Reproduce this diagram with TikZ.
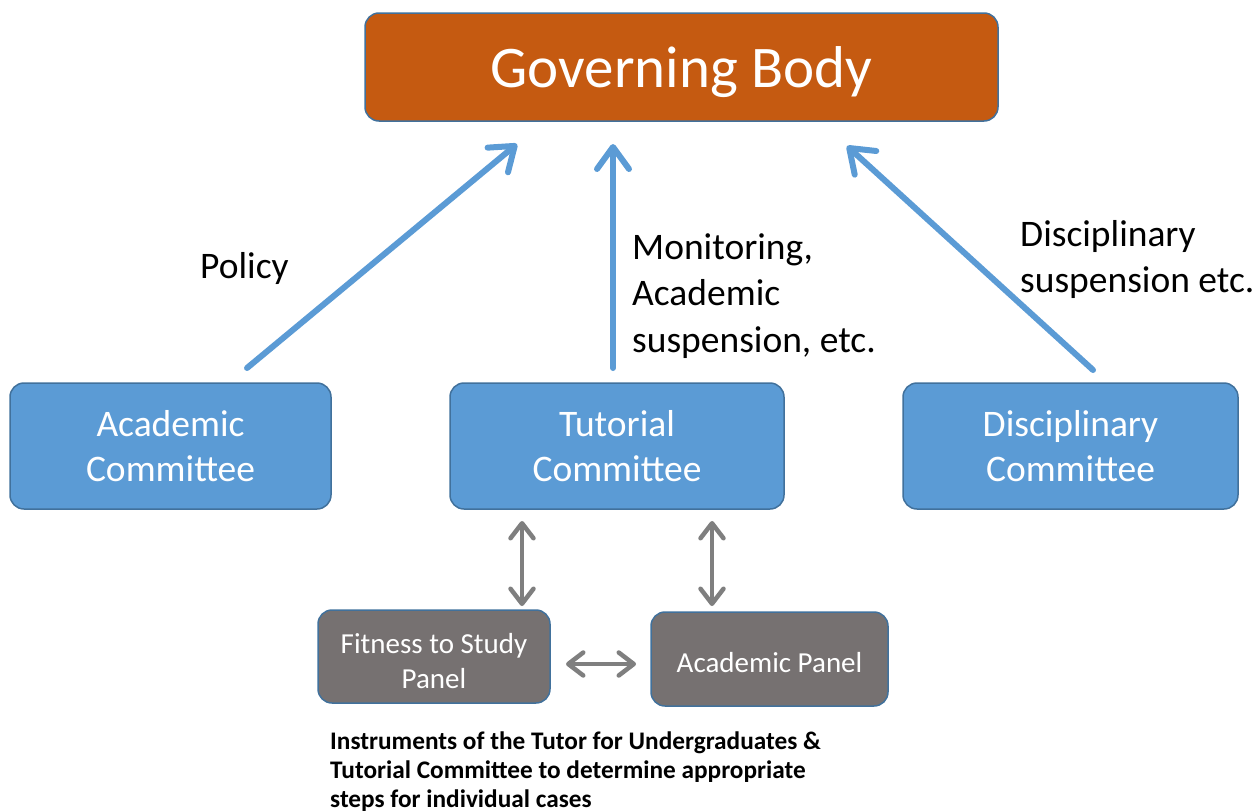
\documentclass[tikz,border=0pt]{standalone}
\usepackage{fontspec}
\setmainfont{Carlito}
\usetikzlibrary{arrows.meta}
\definecolor{gborange}{HTML}{C55A11}
\definecolor{cblue}{HTML}{5B9BD5}
\definecolor{cborder}{HTML}{41719C}
\definecolor{pgray}{HTML}{767171}
\definecolor{agray}{HTML}{7F7F7F}
\tikzset{
  box/.style={draw=cborder, line width=1.5pt, rounded corners=14pt, text=white, align=center, inner sep=0pt},
  gbbox/.style={box, fill=gborange, font=\fontsize{59}{60}\selectfont},
  cbox/.style={box, fill=cblue, font=\fontsize{37.5}{45}\selectfont},
  pbox/.style={box, fill=pgray, font=\fontsize{29}{35}\selectfont},
  bluearrow/.style={draw=cblue, line width=6pt, line cap=round, line join=round,
    -{Straight Barb[length=22pt, width=32pt, line cap=round, line join=round]}},
  grayarrow/.style={draw=agray, line width=4.5pt, line cap=round, line join=round,
    {Straight Barb[length=15pt, width=23pt, line cap=round, line join=round]}-{Straight Barb[length=15pt, width=23pt, line cap=round, line join=round]}},
  lbl/.style={align=left, anchor=base west, inner sep=0pt, font=\fontsize{37.5}{46.5}\selectfont},
}
\begin{document}
\begin{tikzpicture}[x=1pt, y=-1pt]
\useasboundingbox (0,0) rectangle (1257,811);
\node[gbbox, minimum width=633pt, minimum height=108pt] (gb) at (681.5,67) {\raisebox{0pt}[40pt][0pt]{Governing Body}};
\node[cbox, minimum width=321pt, minimum height=126pt] (ac) at (170.5,446) {Academic\\Committee};
\node[cbox, minimum width=334pt, minimum height=126pt] (tc) at (617,446) {Tutorial\\Committee};
\node[cbox, minimum width=335pt, minimum height=126pt] (dc) at (1070.5,446) {Disciplinary\\Committee};
\node[pbox, minimum width=232pt, minimum height=93pt] (fp) at (434,656.5)
  {\raisebox{0pt}[63pt][0pt]{\begin{tabular}[b]{@{}c@{}}Fitness to Study\\Panel\end{tabular}}};
\node[pbox, minimum width=237pt, minimum height=94pt] (ap) at (769.5,659) {\raisebox{0pt}[26pt][0pt]{Academic Panel}};

\coordinate (p1s) at (247,368);
\coordinate (p1e) at (517,144);
\coordinate (p2s) at (613,368);
\coordinate (p2e) at (613,144);
\coordinate (p3s) at (1093,370);
\coordinate (p3e) at (847,146);
\draw[bluearrow] (p1s) -- (p1e);
\draw[bluearrow] (p2s) -- (p2e);
\draw[bluearrow] (p3s) -- (p3e);

\coordinate (g1a) at (522,521);
\coordinate (g1b) at (522,606);
\coordinate (g2a) at (712,521);
\coordinate (g2b) at (712,606);
\coordinate (g3a) at (566,664);
\coordinate (g3b) at (636,664);
\draw[grayarrow] (g1a) -- (g1b);
\draw[grayarrow] (g2a) -- (g2b);
\draw[grayarrow] (g3a) -- (g3b);

\node[lbl] (lpol) at (200,278) {Policy};
\node[lbl] (lmon) at (632,352) {Monitoring,\\Academic\\suspension, etc.};
\node[lbl, font=\fontsize{37.5}{46}\selectfont] (ldis) at (1020,292) {Disciplinary\\suspension etc.};
\node[align=left, anchor=base west, inner sep=0pt, font=\fontsize{25.3}{29}\selectfont\bfseries] (inst) at (330,807)
  {Instruments of the Tutor for Undergraduates \&\\Tutorial Committee to determine appropriate\\steps for individual cases};
\end{tikzpicture}
\end{document}
